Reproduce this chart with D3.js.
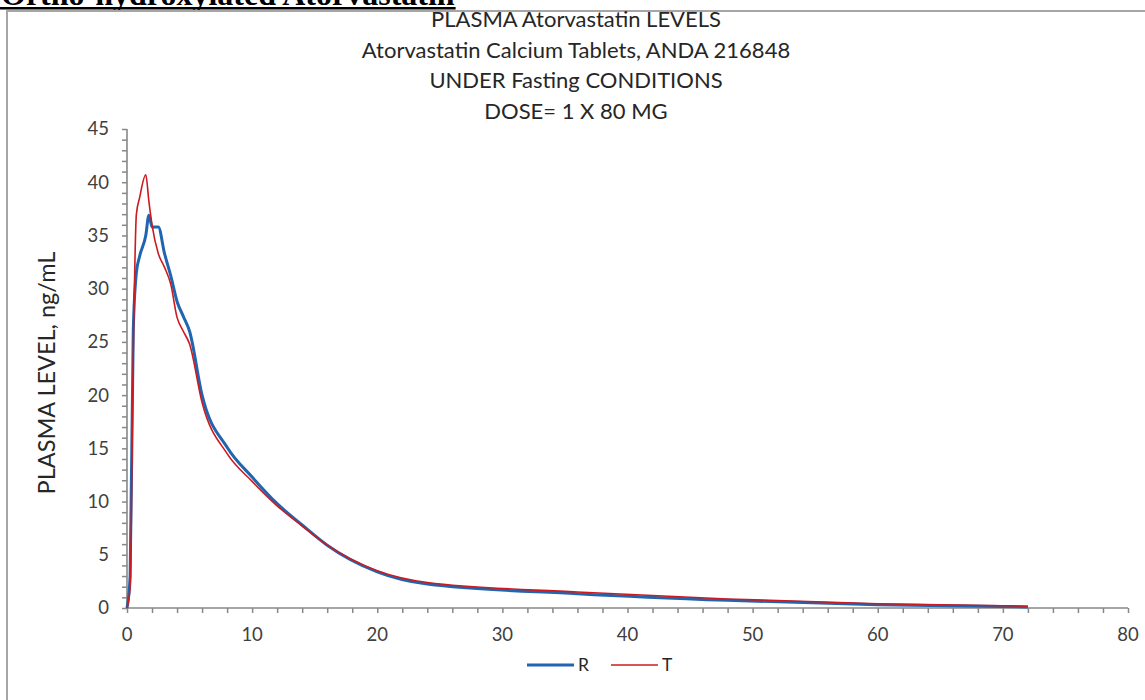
<!DOCTYPE html>
<html>
<head>
<meta charset="utf-8">
<script src="https://cdn.jsdelivr.net/npm/d3@7"></script>
<style>
  html, body { margin: 0; padding: 0; background: #fff; overflow: hidden; }
  svg { display: block; }
</style>
</head>
<body>
<svg id="chart" width="1145" height="700"></svg>
<script>
// sampling times (h)
const times = [0, 0.25, 0.5, 0.75, 1, 1.5, 1.75, 2, 2.5, 3, 3.5, 4, 4.5, 5, 6, 8, 10, 12, 14, 16, 20, 24, 36, 48, 60, 72];
// reference (R) mean levels, ng/mL
const rLevels = [0, 3, 26, 31.5, 33, 35, 36.9, 35.8, 35.8, 33.3, 31.2, 28.8, 27.4, 26.0, 20.0, 15.1, 12.3, 9.8, 7.8, 5.9, 3.4, 2.25, 1.35, 0.72, 0.3, 0.1];
// test (T) mean levels, ng/mL
const tLevels = [0, 2, 24, 37, 38.5, 40.7, 38.2, 36.0, 33.3, 32.0, 30.4, 27.3, 26.0, 24.8, 19.3, 14.5, 11.9, 9.6, 7.7, 5.9, 3.5, 2.4, 1.5, 0.85, 0.4, 0.17];

const titleLines = ['PLASMA Atorvastatin LEVELS', 'Atorvastatin Calcium Tablets, ANDA 216848', 'UNDER Fasting CONDITIONS', 'DOSE= 1 X 80 MG'];
const xTicks = [0, 10, 20, 30, 40, 50, 60, 70, 80];
const yTicks = [0, 5, 10, 15, 20, 25, 30, 35, 40, 45];

const series = [
  { name: 'R', values: rLevels, color: '#2065b0', width: 3 },
  { name: 'T', values: tLevels, color: '#cc1a1f', width: 1.6 }
];

const svg = d3.select('#chart');
const font = 'Lato, "Open Sans", sans-serif';
const axisColor = '#888888';
const textColor = '#404040';

// ==================== HEADER (page text, cut by the top edge) ====================
const header = svg.append('text')
  .attr('x', 1)
  .attr('y', 5)
  .attr('font-family', '"Liberation Serif", "DejaVu Serif", serif')
  .attr('font-weight', 'bold')
  .attr('font-size', 32)
  .attr('fill', '#000')
  .text('Ortho-hydroxylated Atorvastatin');
const hw = header.node().getComputedTextLength();
svg.append('rect')
  .attr('x', 0).attr('y', 7)
  .attr('width', hw + 2).attr('height', 2.5)
  .attr('fill', '#000');

// outer frame (table cell border)
svg.append('line')
  .attr('x1', 7).attr('x2', 1145).attr('y1', 11).attr('y2', 11)
  .attr('stroke', '#a6a6a6').attr('stroke-width', 2);
svg.append('line')
  .attr('x1', 7).attr('x2', 7).attr('y1', 10).attr('y2', 700)
  .attr('stroke', '#a6a6a6').attr('stroke-width', 2);

// ==================== SCALES ====================
const x = d3.scaleLinear().domain([0, 80]).range([127, 1128]);
const y = d3.scaleLinear().domain([0, 45]).range([608, 129]);

// ==================== TITLE ====================
svg.append('g')
  .selectAll('text')
  .data(titleLines)
  .enter()
  .append('text')
  .attr('x', 576)
  .attr('y', (d, i) => 27 + i * 30.5)
  .attr('text-anchor', 'middle')
  .attr('font-family', font)
  .attr('font-size', 22)
  .attr('fill', '#262626')
  .text(d => d);

// ==================== AXES ====================
const minorX = d3.range(0, 81, 2);
const minorY = d3.range(0, 46, 1);

const xAxis = svg.append('g')
  .attr('transform', `translate(0,${y(0)})`)
  .call(d3.axisBottom(x).tickValues(minorX).tickSize(5).tickFormat(''));
xAxis.select('.domain').remove();
xAxis.selectAll('line').attr('stroke', axisColor).attr('stroke-width', 1.5);

const yAxis = svg.append('g')
  .attr('transform', `translate(${x(0)},0)`)
  .call(d3.axisLeft(y).tickValues(minorY).tickSize(5).tickFormat(''));
yAxis.select('.domain').remove();
yAxis.selectAll('line').attr('stroke', axisColor).attr('stroke-width', 1.5);

svg.append('line')
  .attr('x1', x(0)).attr('x2', x(80)).attr('y1', y(0)).attr('y2', y(0))
  .attr('stroke', axisColor).attr('stroke-width', 1.6);
svg.append('line')
  .attr('x1', x(0)).attr('x2', x(0)).attr('y1', y(0)).attr('y2', y(45))
  .attr('stroke', axisColor).attr('stroke-width', 1.6);

// major tick labels
svg.append('g')
  .selectAll('text')
  .data(xTicks)
  .enter()
  .append('text')
  .attr('x', d => x(d))
  .attr('y', y(0) + 33)
  .attr('text-anchor', 'middle')
  .attr('font-family', font)
  .attr('font-size', 18.5)
  .attr('fill', textColor)
  .text(d => d);

svg.append('g')
  .selectAll('text')
  .data(yTicks)
  .enter()
  .append('text')
  .attr('x', x(0) - 18)
  .attr('y', d => y(d))
  .attr('dy', '0.35em')
  .attr('text-anchor', 'end')
  .attr('font-family', font)
  .attr('font-size', 18.5)
  .attr('fill', textColor)
  .text(d => d);

// y axis title
svg.append('text')
  .attr('transform', `translate(55,${373}) rotate(-90)`)
  .attr('text-anchor', 'middle')
  .attr('font-family', font)
  .attr('font-size', 23.5)
  .attr('fill', '#262626')
  .text('PLASMA LEVEL, ng/mL');

// ==================== LINES ====================
const line = d3.line()
  .x((d, i) => x(times[i]))
  .y(d => y(d))
  .curve(d3.curveMonotoneX);

svg.append('g')
  .selectAll('path')
  .data(series)
  .enter()
  .append('path')
  .attr('d', d => line(d.values))
  .attr('fill', 'none')
  .attr('stroke', d => d.color)
  .attr('stroke-width', d => d.width)
  .attr('stroke-linejoin', 'round');

// ==================== LEGEND ====================
const legend = svg.append('g')
  .selectAll('g')
  .data(series)
  .enter()
  .append('g')
  .attr('transform', (d, i) => `translate(${527 + i * 84},665)`);
legend.append('line')
  .attr('x1', 0).attr('x2', 47)
  .attr('stroke', d => d.color)
  .attr('stroke-width', d => d.width);
legend.append('text')
  .attr('x', 51)
  .attr('dy', '0.35em')
  .attr('font-family', font)
  .attr('font-size', 17.5)
  .attr('fill', '#262626')
  .text(d => d.name);
</script>
</body>
</html>
